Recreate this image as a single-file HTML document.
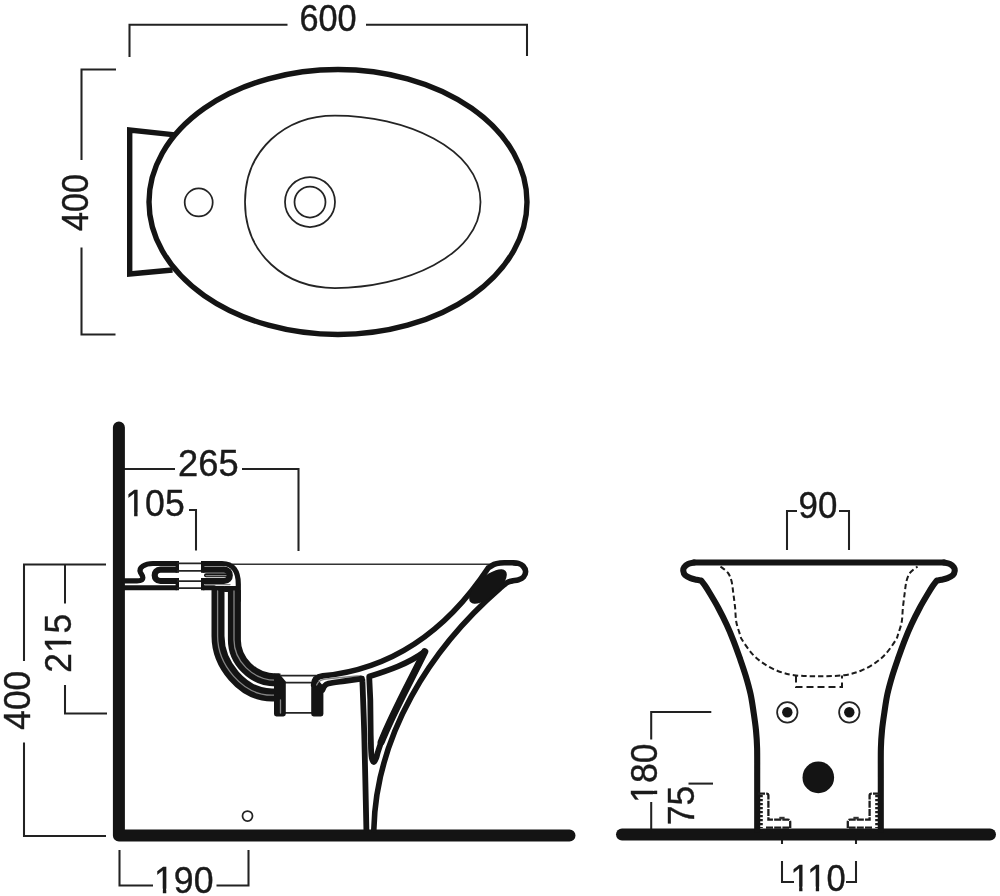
<!DOCTYPE html>
<html lang="en">
<head>
<meta charset="utf-8">
<title>Bidet technical drawing</title>
<style>
  html, body { margin: 0; padding: 0; background: #fff; }
  body { width: 1000px; height: 896px; overflow: hidden; }
  svg { display: block; filter: blur(0.65px); }
  text { font-family: "Liberation Sans", sans-serif; font-size: 37.0px; fill: #1a1a1a; stroke: #1a1a1a; stroke-width: 0.4px; }
  .dim { fill: none; stroke: #222; stroke-width: 2.05; }
  .thin { fill: none; stroke: #242424; stroke-width: 1.75; }
  .dash { fill: none; stroke: #1c1c1c; stroke-width: 2; stroke-dasharray: 5.4 3; }
  .dash2 { fill: none; stroke: #1c1c1c; stroke-width: 2; stroke-dasharray: 7 4; }
  .bd { fill: none; stroke: #1c1c1c; stroke-width: 2.3; stroke-dasharray: 7 1.2; }
  .bd2 { fill: none; stroke: #1c1c1c; stroke-width: 3; stroke-dasharray: 2.2 1.8; }
  .rim { fill: none; stroke: #333; stroke-width: 1.4; }
  .wd { fill: none; stroke: #fff; stroke-width: 1.4; stroke-dasharray: 3 2; }
  .k { fill: none; stroke: #141414; stroke-linecap: round; stroke-linejoin: round; }
  .kb { fill: none; stroke: #141414; stroke-linecap: butt; stroke-linejoin: round; }
  .kmb { fill: none; stroke: #141414; stroke-linecap: butt; stroke-linejoin: miter; }
  .km { fill: none; stroke: #141414; stroke-linecap: round; stroke-linejoin: miter; }
  .gl { fill: none; stroke: #858585; stroke-width: 1.3; stroke-linecap: round; stroke-linejoin: round; }
</style>
</head>
<body>
<svg width="1000" height="896" viewBox="0 0 1000 896">
<rect width="1000" height="896" fill="#ffffff"/>
<g id="top-view">
<path class="dim" d="M129.5,57 V24.7 H287.5"/>
<path class="dim" d="M366,24.7 H527 V56"/>
<g transform="translate(328.01,30.86) scale(0.9269,1)"><text text-anchor="middle">600</text></g>
<path class="dim" d="M116,69.5 H81.5 V160"/>
<path class="dim" d="M81.5,247.5 V334.5 H115.5"/>
<g transform="translate(88,202.58) rotate(-90) scale(0.9231,1)"><text text-anchor="middle">400</text></g>
<path class="kmb" stroke-width="5.4" d="M175,134.9 L129.7,130 L129.7,274 L172.5,270"/>
<ellipse class="k" stroke-width="5.4" cx="338" cy="202" rx="189" ry="132.5"/>
<path class="thin" d="M245,202 C245,150 285,115.5 335,115.5 C404,115.5 480.5,148 480.5,202 C480.5,256 404,288 335,288 C285,288 245,254 245,202 Z"/>
<circle class="thin" cx="198.7" cy="202.4" r="14"/>
<circle class="thin" cx="310" cy="202" r="25"/>
<circle class="thin" cx="310" cy="202" r="15.5"/>
</g>
<g id="side-view">
<path class="dim" d="M124,469 H175"/>
<path class="dim" d="M242,469 H298.5 V551"/>
<g transform="translate(208.39,475.76) scale(0.9816,1)"><text text-anchor="middle">265</text></g>
<path class="dim" d="M189,510 H196 V550.5"/>
<g transform="translate(155,516.42) scale(0.9618,1)"><text text-anchor="middle">105</text><rect x="-30.05" y="-3.96" width="8.34" height="5.76" fill="#fff"/><rect x="-18.14" y="-3.96" width="8.05" height="5.76" fill="#fff"/></g>
<path class="dim" d="M106,564.5 H24 V661"/>
<path class="dim" d="M24,742.5 V836 H106"/>
<g transform="translate(29.98,700.26) rotate(-90) scale(0.9528,1)"><text text-anchor="middle">400</text></g>
<path class="dim" d="M65,564.5 V603.5"/>
<path class="dim" d="M65,685 V713.5 H107"/>
<g transform="translate(70.52,643.25) rotate(-90) scale(0.9533,1)"><text text-anchor="middle">215</text><rect x="-9.47" y="-3.96" width="8.34" height="5.76" fill="#fff"/><rect x="2.44" y="-3.96" width="8.05" height="5.76" fill="#fff"/></g>
<path class="dim" d="M119.5,850 V885.5 H153"/>
<path class="dim" d="M216.5,885.5 H248.5 V850"/>
<g transform="translate(183.75,892.6) scale(0.9629,1)"><text text-anchor="middle">190</text><rect x="-30.05" y="-3.96" width="8.34" height="5.76" fill="#fff"/><rect x="-18.14" y="-3.96" width="8.05" height="5.76" fill="#fff"/></g>
<circle class="thin" cx="247.5" cy="816" r="5"/>
<path class="rim" d="M232,564.2 H492"/>
<path class="k" stroke-width="12" d="M118.9,427.6 V835.4 H569.5"/>
<path class="k" stroke-width="5.2" d="M124,580.8 H137 C146,580.8 142.5,575.5 140.5,572.5 C138,567.5 145,563.5 153,563.5 H176.5"/>
<path class="k" stroke-width="5" d="M124,587.7 H176.5"/>
<path class="k" stroke-width="6.2" d="M176,569.6 H160.5 C152.8,569.6 152.8,581 160.5,581 H176"/>
<path class="kb" stroke-width="3.4" d="M177.3,561 V572.7 M177.3,577.9 V590.2"/>
<path class="thin" d="M177,563.3 H203 M177,570.8 H203 M177,581 H203 M177,588 H203"/>
<path class="k" stroke-width="6.2" d="M204,569.6 H224 C231.7,569.6 231.7,581 224,581 H204"/>
<path class="k" stroke-width="4" d="M206,575.3 H226"/>
<path class="gl" d="M206,575.6 H226"/>
<path class="kb" stroke-width="3.4" d="M202.7,561 V572.7 M202.7,577.9 V590.2"/>
<path class="k" stroke-width="5" d="M203.5,587.7 H214"/>
<path class="gl" stroke-width="1.6" d="M205,584.6 H230"/>
<path class="k" stroke-width="5.2" d="M203.5,563.5 H222 C233,563.5 238.3,571 238.3,584 V600"/>
<path class="kb" stroke-width="13" d="M218,586 V636 C218,664 242,695 272,695 H281"/>
<path class="gl" d="M217.6,591 V636 C217.6,664 242,695.2 272,695.2 H276 C279.5,695.2 280.5,697 280.5,700 V713"/>
<path class="kb" stroke-width="13" d="M234.4,590 V640 C234.4,660 252,680 276,680 H280.5"/>
<path class="k" stroke-width="6" d="M225,589 H236"/>
<path class="gl" d="M234,591 V640 C234,660 252,680.2 276,680.2 H282"/>
<path class="thin" d="M280.5,675.5 H316.5 M285,682.5 H312 M285,712.8 H312"/>
<path d="M274,673.6 H279 L285.8,681.5 V714 Q285.8,716.4 283.4,716.4 H276.4 Q274,716.4 274,714 Z" fill="#141414"/>
<path class="gl" d="M280.5,700 V713"/>
<path d="M311.2,688 L312,682 L318,680 L323.4,686 V714 Q323.4,716.4 321,716.4 H313.6 Q311.2,716.4 311.2,714 Z" fill="#141414"/>
<path class="k" stroke-width="5.6" d="M313.6,685 C313.8,680 317,676.6 322.7,675.9 C395.4,668.9 448.9,627.2 488.2,568 C489.17,567.4 492,565.23 494,564.4 C496,563.57 498.2,563.27 500.2,563 C502.2,562.73 503.98,562.83 506,562.8 C508.02,562.77 510.25,562.7 512.3,562.8 C514.35,562.9 516.52,562.87 518.3,563.4 C520.08,563.93 521.78,564.65 523,566 C524.22,567.35 525.52,569.67 525.6,571.5 C525.68,573.33 524.72,575.62 523.5,577 C522.28,578.38 520.22,579.13 518.3,579.8 C516.38,580.47 513.88,580.53 512,581 C510.12,581.47 508.97,581.4 507,582.6 C505.03,583.8 501.33,587.27 500.2,588.2 C430,649.1 375.9,735 373.8,830"/>
<ellipse cx="488" cy="586.5" rx="23.5" ry="10" fill="#141414" transform="rotate(-41.5 488 586.5)"/>
<path class="gl" stroke-width="1.5" d="M316.6,685 C318,681.5 320.5,680 324,679.4 C338,677.6 350,676.6 361,675.6"/>
<path class="k" stroke-width="5.7" d="M322.5,690 C322.83,689.33 323.5,687.07 324.5,686 C325.5,684.93 325.2,684.42 328.5,683.6 C331.8,682.78 338.72,681.93 344.3,681.1 C349.88,680.27 359.05,679.02 362,678.6"/>
<path class="kb" stroke-width="5.8" d="M362.2,679.2 C362.27,680.33 362.25,676.7 362.6,686 C362.95,695.3 363.83,718.83 364.3,735 C364.77,751.17 365.05,767.17 365.4,783 C365.75,798.83 366.23,822.17 366.4,830"/>
<path class="k" stroke-width="5.8" d="M369.2,676.6 C388.5,670.5 408.2,663.9 424.7,651.7 L424.7,651.7 C410,682.1 393.9,710.5 381.2,742 C380.65,743.67 378.73,749.33 377.9,752 C377.07,754.67 376.87,756.33 376.2,758 C375.53,759.67 374.63,762 373.9,762 C373.17,762 372.27,760 371.8,758 C371.33,756 371.25,752.67 371.1,750 C370.95,747.33 370.93,743.33 370.9,742 L370.7,735 L370.3,700 L369.2,676.6 Z"/>
<path class="k" stroke-width="7.2" d="M424.7,651.7 C410,682.1 393.9,710.5 381.2,742"/>
</g>
<g id="front-view">
<path class="dim" d="M797,511 H787 V550"/>
<path class="dim" d="M839,511 H849 V550"/>
<g transform="translate(817.98,517.6) scale(0.9421,1)"><text text-anchor="middle">90</text></g>
<path class="dim" d="M711.3,712 H651.2 V739.5"/>
<path class="dim" d="M651.2,802 V830"/>
<g transform="translate(657,773.25) rotate(-90) scale(0.9603,1)"><text text-anchor="middle">180</text><rect x="-30.05" y="-3.96" width="8.34" height="5.76" fill="#fff"/><rect x="-18.14" y="-3.96" width="8.05" height="5.76" fill="#fff"/></g>
<path class="dim" d="M688.5,783.6 H713"/>
<g transform="translate(693.64,805.51) rotate(-90) scale(0.9538,1)"><text text-anchor="middle">75</text></g>
<path class="dim" d="M782,838 V844 M782,861 V882 H794"/>
<path class="dim" d="M856,838 V844 M856,861 V882 H846"/>
<g transform="translate(818.11,890.5) scale(0.9329,1)"><text text-anchor="middle">110</text><rect x="-28.68" y="-3.96" width="8.34" height="5.76" fill="#fff"/><rect x="-16.77" y="-3.96" width="8.05" height="5.76" fill="#fff"/><rect x="-10.84" y="-3.96" width="8.34" height="5.76" fill="#fff"/><rect x="1.06" y="-3.96" width="8.05" height="5.76" fill="#fff"/></g>
<path class="k" stroke-width="12" d="M622,834.5 H990"/>
<path class="k" stroke-width="6" d="M694,562.6 H944"/>
<path class="k" stroke-width="6.1" d="M694.1,562.6 C693.1,562.82 689.75,563.12 688.1,563.9 C686.45,564.68 685,566.13 684.2,567.3 C683.4,568.47 683.15,569.6 683.3,570.9 C683.45,572.2 683.9,573.9 685.1,575.1 C686.3,576.3 688.6,577.33 690.5,578.1 C692.4,578.87 694.72,579.28 696.5,579.7 C698.28,580.12 700.42,580.45 701.2,580.6 L701.2,580.6 C701.88,581.5 703.87,583.9 705.3,586 C706.73,588.1 707.65,589.58 709.8,593.2 C711.95,596.82 715.4,602.48 718.2,607.7 C721,612.92 724.08,619.07 726.6,624.5 C729.12,629.93 731.1,634.7 733.3,640.3 C735.5,645.9 737.72,652.13 739.8,658.1 C741.88,664.07 744,670.08 745.8,676.1 C747.6,682.12 749.3,688.17 750.6,694.2 C751.9,700.23 752.7,706.27 753.6,712.3 C754.5,718.33 755.42,724.45 756,730.4 C756.58,736.35 756.9,739.73 757.1,748 C757.3,756.27 757.18,766.33 757.2,780 C757.22,793.67 757.2,821.67 757.2,830"/>
<path class="k" stroke-width="6.1" d="M943.9,562.6 C944.9,562.82 948.25,563.12 949.9,563.9 C951.55,564.68 953,566.13 953.8,567.3 C954.6,568.47 954.85,569.6 954.7,570.9 C954.55,572.2 954.1,573.9 952.9,575.1 C951.7,576.3 949.4,577.33 947.5,578.1 C945.6,578.87 943.28,579.28 941.5,579.7 C939.72,580.12 937.58,580.45 936.8,580.6 L936.8,580.6 C936.12,581.5 934.13,583.9 932.7,586 C931.27,588.1 930.35,589.58 928.2,593.2 C926.05,596.82 922.6,602.48 919.8,607.7 C917,612.92 913.92,619.07 911.4,624.5 C908.88,629.93 906.9,634.7 904.7,640.3 C902.5,645.9 900.28,652.13 898.2,658.1 C896.12,664.07 894,670.08 892.2,676.1 C890.4,682.12 888.7,688.17 887.4,694.2 C886.1,700.23 885.3,706.27 884.4,712.3 C883.5,718.33 882.58,724.45 882,730.4 C881.42,736.35 881.1,739.73 880.9,748 C880.7,756.27 880.82,766.33 880.8,780 C880.78,793.67 880.8,821.67 880.8,830"/>
<path class="dash" d="M720.5,566.5 C721.72,567.53 725.97,570.28 727.8,572.7 C729.63,575.12 730.58,577.58 731.5,581 C732.42,584.42 732.7,588.75 733.3,593.2 C733.9,597.65 734.6,602.9 735.1,607.7 C735.6,612.5 735.5,617.58 736.3,622 C737.1,626.42 738.92,631.2 739.9,634.2 C740.88,637.2 740.22,636.82 742.2,640 C744.18,643.18 748.38,649.48 751.8,653.3 C755.22,657.12 758.48,660 762.7,662.9 C766.92,665.8 771.88,668.65 777.1,670.7 C782.32,672.75 787.02,674.28 794,675.2 C800.98,676.12 810.67,676.2 819,676.2 C827.33,676.2 837.02,676.12 844,675.2 C850.98,674.28 855.68,672.75 860.9,670.7 C866.12,668.65 871.08,665.8 875.3,662.9 C879.52,660 882.78,657.12 886.2,653.3 C889.62,649.48 893.82,643.18 895.8,640 C897.78,636.82 897.12,637.2 898.1,634.2 C899.08,631.2 900.9,626.42 901.7,622 C902.5,617.58 902.4,612.5 902.9,607.7 C903.4,602.9 904.1,597.65 904.7,593.2 C905.3,588.75 905.58,584.42 906.5,581 C907.42,577.58 908.37,575.12 910.2,572.7 C912.03,570.28 916.28,567.53 917.5,566.5"/>
<path class="dash2" d="M796,675.5 V687 H842 V675.5"/>
<circle class="thin" stroke-width="2" cx="787.3" cy="712.3" r="10.2"/>
<circle cx="787.3" cy="712.3" r="5.2" fill="#141414"/>
<circle class="thin" stroke-width="2" cx="849.3" cy="712.3" r="10.2"/>
<circle cx="849.3" cy="712.3" r="5.2" fill="#141414"/>
<circle cx="818.3" cy="777.4" r="15.8" fill="#141414"/>
<path class="bd" d="M758,793.6 H766.5 Q768.4,793.6 768.4,795.6 V819.6 H788 Q790.2,819.6 790.2,822 V828.6"/>
<path class="bd2" d="M761.3,795 V828"/>
<path class="bd" d="M766,827.6 H789"/>
<rect x="779.3" y="816.8" width="5.3" height="2.6" fill="#333"/>
<path class="bd" d="M880,793.6 H871.5 Q869.6,793.6 869.6,795.6 V819.6 H850 Q847.8,819.6 847.8,822 V828.6"/>
<path class="bd2" d="M876.7,795 V828"/>
<path class="bd" d="M872,827.6 H849"/>
<rect x="853.4" y="816.8" width="5.3" height="2.6" fill="#333"/>
</g>
</svg>
</body>
</html>
